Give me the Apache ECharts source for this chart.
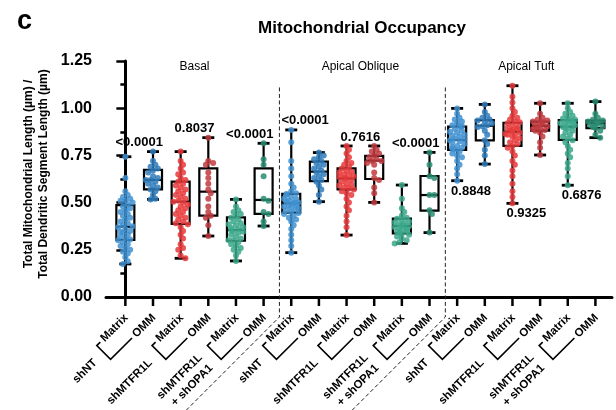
<!DOCTYPE html>
<html><head><meta charset="utf-8">
<script src="https://cdn.jsdelivr.net/npm/echarts@6/dist/echarts.min.js"></script>
<style>html,body{margin:0;padding:0;background:#fff}#chart{width:616px;height:410px}</style>
</head><body><div id="chart"></div>
<script>
// ---------- data ----------
const tickLabels = ['Matrix','OMM','Matrix','OMM','Matrix','OMM','Matrix','OMM','Matrix','OMM','Matrix','OMM','Matrix','OMM','Matrix','OMM','Matrix','OMM'];
const groupLabels = ['shNT','shMTFR1L','shMTFR1L\n+ shOPA1','shNT','shMTFR1L','shMTFR1L\n+ shOPA1','shNT','shMTFR1L','shMTFR1L\n+ shOPA1'];
const regionLabels = ['Basal','Apical Oblique','Apical Tuft'];
const pValues = ['<0.0001','0.8037','<0.0001','<0.0001','0.7616','<0.0001','0.8848','0.9325','0.6876'];
// [min, Q1, median, Q3, max]
const boxStats = [
  [0.175,0.302,0.372,0.487,0.743],[0.517,0.570,0.620,0.673,0.770],
  [0.205,0.387,0.505,0.611,0.770],[0.323,0.431,0.558,0.681,0.844],
  [0.191,0.298,0.355,0.422,0.517],[0.376,0.440,0.514,0.681,0.814],
  [0.235,0.447,0.496,0.546,0.885],[0.505,0.614,0.664,0.717,0.765],
  [0.328,0.570,0.628,0.681,0.800],[0.501,0.625,0.722,0.747,0.800],
  [0.284,0.337,0.376,0.415,0.593],[0.341,0.457,0.540,0.641,0.766],
  [0.616,0.779,0.832,0.902,0.999],[0.704,0.830,0.907,0.937,1.020],
  [0.496,0.800,0.876,0.923,1.119],[0.752,0.881,0.906,0.929,1.026],
  [0.592,0.832,0.902,0.937,1.026],[0.844,0.894,0.920,0.934,1.035]
];
const basalPoints = [
  [0.743,0.63,0.56,0.54,0.53,0.52,0.51,0.51,0.50,0.49,0.48,0.47,0.46,0.45,0.44,0.43,0.42,0.41,0.40,0.39,0.38,0.375,0.37,0.36,0.35,0.345,0.34,0.33,0.32,0.31,0.305,0.30,0.29,0.28,0.27,0.26,0.25,0.24,0.23,0.21,0.19,0.175],
  [0.770,0.72,0.70,0.69,0.68,0.67,0.66,0.64,0.63,0.62,0.62,0.61,0.60,0.59,0.58,0.57,0.56,0.54,0.52,0.517],
  [0.770,0.72,0.70,0.68,0.66,0.65,0.63,0.62,0.61,0.60,0.59,0.58,0.57,0.56,0.55,0.54,0.53,0.52,0.51,0.505,0.50,0.49,0.48,0.47,0.46,0.45,0.44,0.43,0.42,0.41,0.40,0.39,0.385,0.37,0.35,0.33,0.31,0.28,0.26,0.25,0.22,0.205],
  [0.844,0.72,0.71,0.70,0.66,0.63,0.60,0.57,0.55,0.52,0.48,0.45,0.43,0.42,0.38,0.323],
  [0.517,0.48,0.46,0.45,0.44,0.43,0.42,0.41,0.40,0.39,0.385,0.38,0.37,0.365,0.36,0.355,0.35,0.345,0.34,0.33,0.32,0.31,0.30,0.30,0.29,0.28,0.27,0.26,0.25,0.24,0.22,0.191],
  [0.814,0.73,0.70,0.64,0.52,0.51,0.45,0.44,0.40,0.376]
];
const obliquePoints = [
  [0.885,0.82,0.72,0.68,0.64,0.60,0.58,0.56,0.55,0.545,0.54,0.53,0.52,0.52,0.51,0.505,0.50,0.50,0.495,0.49,0.485,0.48,0.475,0.47,0.465,0.46,0.45,0.445,0.44,0.43,0.42,0.41,0.40,0.38,0.36,0.33,0.30,0.27,0.235],
  [0.765,0.75,0.74,0.73,0.72,0.71,0.70,0.69,0.68,0.67,0.66,0.65,0.64,0.63,0.62,0.61,0.59,0.57,0.54,0.505],
  [0.800,0.78,0.76,0.74,0.72,0.71,0.70,0.69,0.68,0.67,0.665,0.66,0.65,0.645,0.64,0.635,0.63,0.625,0.62,0.61,0.60,0.595,0.59,0.58,0.575,0.57,0.56,0.55,0.54,0.52,0.50,0.48,0.46,0.43,0.40,0.37,0.328],
  [0.800,0.78,0.77,0.76,0.75,0.74,0.73,0.72,0.72,0.71,0.70,0.66,0.63,0.62,0.58,0.55,0.501],
  [0.593,0.52,0.47,0.45,0.43,0.42,0.415,0.41,0.40,0.395,0.39,0.385,0.38,0.378,0.375,0.37,0.365,0.36,0.355,0.35,0.345,0.34,0.335,0.33,0.32,0.31,0.30,0.29,0.284],
  [0.766,0.70,0.64,0.63,0.54,0.54,0.46,0.44,0.341]
];
const tuftPoints = [
  [0.999,0.97,0.95,0.94,0.93,0.92,0.91,0.905,0.90,0.89,0.88,0.875,0.87,0.86,0.855,0.85,0.84,0.835,0.83,0.825,0.82,0.81,0.80,0.795,0.79,0.785,0.78,0.77,0.76,0.75,0.74,0.72,0.70,0.68,0.65,0.616],
  [1.020,0.98,0.96,0.95,0.94,0.935,0.93,0.92,0.91,0.905,0.90,0.88,0.86,0.83,0.81,0.78,0.75,0.704],
  [1.119,1.06,1.03,1.00,0.98,0.96,0.95,0.94,0.93,0.925,0.92,0.91,0.90,0.895,0.89,0.885,0.88,0.876,0.87,0.865,0.86,0.855,0.85,0.84,0.83,0.82,0.81,0.80,0.79,0.77,0.75,0.72,0.70,0.67,0.64,0.60,0.56,0.53,0.496],
  [1.026,0.97,0.95,0.94,0.935,0.93,0.925,0.92,0.915,0.91,0.905,0.90,0.895,0.89,0.885,0.88,0.87,0.85,0.82,0.79,0.752],
  [1.026,1.00,0.98,0.97,0.96,0.95,0.945,0.94,0.935,0.93,0.925,0.92,0.915,0.91,0.905,0.90,0.895,0.89,0.88,0.87,0.86,0.85,0.84,0.83,0.82,0.80,0.78,0.76,0.74,0.71,0.68,0.64,0.592],
  [1.035,0.97,0.95,0.94,0.935,0.93,0.925,0.92,0.918,0.91,0.905,0.90,0.895,0.88,0.86,0.844]
];
const conditionColors = ['#3f90d0','#2f7bbb','#e8393b','#c13a3e','#3ba88b','#2a8d73'];

// ---------- layout helpers ----------
const points = basalPoints.concat(obliquePoints, tuftPoints);
const FONT = '"Liberation Sans", Arial, sans-serif';
const X_MIN = -0.7, X_MAX = 17.6, Y_MAX = 1.25;
const G_LEFT = 106, G_RIGHT = 4, G_TOP = 61, G_BOTTOM = 113;
const pxPerX = (616 - G_LEFT - G_RIGHT) / (X_MAX - X_MIN);
const pxPerY = (410 - G_TOP - G_BOTTOM) / Y_MAX;

function swarm(vals){
  const placed = [], out = [];
  const d = 4.4, step = 2.4, maxOff = 9;
  vals.forEach((v, idx) => {
    const y = v * pxPerY;
    let best = null;
    for (let k = 0; k < 16; k++) {
      const off = k === 0 ? 0 : (k % 2 ? 1 : -1) * Math.ceil(k / 2) * step;
      if (Math.abs(off) > maxOff) break;
      if (placed.every(p => Math.hypot(p[0] - off, p[1] - y) >= d)) { best = off; break; }
    }
    if (best === null) best = ((idx % 5) - 2) * step;
    placed.push([best, y]); out.push(best);
  });
  return out;
}
const scatterData = [];
points.forEach((vals, g) => {
  const offs = swarm(vals);
  vals.forEach((v, i) => scatterData.push([g + offs[i] / pxPerX, v, g]));
});

const mctx = document.createElement('canvas').getContext('2d');
const LBL_FONT = 'bold 11.5px ' + FONT;
function textW(t){ mctx.font = LBL_FONT; return mctx.measureText(t).width; }
const S2 = Math.SQRT2;
const toUV = (p) => [(p[0] - p[1]) / S2, (p[0] + p[1]) / S2];
const toPx = (u, v) => [(u + v) / S2, (v - u) / S2];

const chart = echarts.init(document.getElementById('chart'), null, {renderer:'canvas'});
chart.setOption({
  animation: false,
  backgroundColor: '#fff',
  grid: {left: G_LEFT, right: G_RIGHT, top: G_TOP, bottom: G_BOTTOM, outerBoundsMode: 'none'},
  xAxis: {type:'value', min:X_MIN, max:X_MAX,
    axisLine:{show:true, onZero:false, lineStyle:{color:'#000', width:3}},
    axisTick:{show:false}, axisLabel:{show:false}, splitLine:{show:false}},
  yAxis: {type:'value', min:0, max:Y_MAX, interval:0.25,
    axisLine:{show:true, lineStyle:{color:'#000', width:3}},
    axisTick:{show:true, length:9, lineStyle:{color:'#000', width:2.5}},
    minorTick:{show:true, splitNumber:2, length:5, lineStyle:{color:'#000', width:2.5}},
    splitLine:{show:false}, minorSplitLine:{show:false},
    axisLabel:{formatter: v => v.toFixed(2), color:'#000', fontWeight:'bold', fontSize:16, fontFamily:FONT, margin:14}},
  graphic: [
    {type:'text', left:17, top:8, style:{text:'c', font:'bold 27px ' + FONT, fill:'#000'}},
    {type:'text', x:362, y:28, style:{text:'Mitochondrial Occupancy', font:'bold 17px ' + FONT, fill:'#000', align:'center', verticalAlign:'middle'}},
    {type:'text', x:36, y:174, rotation:Math.PI/2, style:{text:'Total Mitochondrial Length (µm) /\nTotal Dendritic Segment Length (µm)', font:'bold 12px ' + FONT, lineHeight:15, fill:'#000', align:'center', verticalAlign:'middle'}}
  ],
  series: [
    { // box plots
      type:'custom', z:3, clip:false,
      data: boxStats.map((s, i) => [i].concat(s)),
      encode:{x:0, y:[1,2,3,4,5]},
      renderItem: (params, api) => {
        const g = api.value(0);
        const c = k => api.coord([g, api.value(k)]);
        const pMin = c(1), pQ1 = c(2), pMed = c(3), pQ3 = c(4), pMax = c(5);
        const x = pMin[0], hw = 9, cw = 6;
        const ls = {stroke:'#000', lineWidth:2.2};
        const cs = {stroke:'#000', lineWidth:2.8};
        return {type:'group', children:[
          {type:'line', shape:{x1:x, y1:pMax[1], x2:x, y2:pQ3[1]}, style:ls},
          {type:'line', shape:{x1:x, y1:pQ1[1], x2:x, y2:pMin[1]}, style:ls},
          {type:'line', shape:{x1:x-cw, y1:pMax[1], x2:x+cw, y2:pMax[1]}, style:cs},
          {type:'line', shape:{x1:x-cw, y1:pMin[1], x2:x+cw, y2:pMin[1]}, style:cs},
          {type:'rect', shape:{x:x-hw, y:pQ3[1], width:2*hw, height:pQ1[1]-pQ3[1]}, style:{stroke:'#000', lineWidth:2.2, fill:'transparent'}},
          {type:'line', shape:{x1:x-hw, y1:pMed[1], x2:x+hw, y2:pMed[1]}, style:ls}
        ]};
      }
    },
    { // individual points
      type:'scatter', z:4, symbolSize:6,
      data: scatterData,
      itemStyle:{opacity:0.85, color: p => conditionColors[p.value[2] % 6]}
    },
    { // x ticks, tick labels, brackets, group labels
      type:'custom', z:5, clip:false, silent:true,
      data: groupLabels.map((t, p) => [p * 2, 0]),
      encode:{x:0, y:1},
      renderItem: (params, api) => {
        const p = params.dataIndex;
        const axisY = api.coord([0, 0])[1];
        const xm = api.coord([2*p, 0])[0], xo = api.coord([2*p+1, 0])[0];
        const tickStyle = {stroke:'#000', lineWidth:2.5};
        const M = [xm + 1, axisY + 19], O = [xo + 1, axisY + 19];
        const [uM, vM] = toUV(M), [uO, vO] = toUV(O);
        const Lm = textW(tickLabels[2*p]), Lo = textW(tickLabels[2*p+1]);
        const uA = Math.min(uM - Lm, uO - Lo) - 8;
        const P0 = toPx(uM - Lm - 3, vM), A = toPx(uA, vM), B = toPx(uA, vO), C = toPx(uO - Lo - 3, vO);
        const G = toPx(uA - 12, (vM + vO) / 2);
        const txt = (pos, t) => ({type:'text', x:pos[0], y:pos[1], rotation:Math.PI/4,
          style:{text:t, font:LBL_FONT, fill:'#000', align:'right', verticalAlign:'middle', lineHeight:15}});
        return {type:'group', children:[
          {type:'line', shape:{x1:xm, y1:axisY, x2:xm, y2:axisY+9}, style:tickStyle},
          {type:'line', shape:{x1:xo, y1:axisY, x2:xo, y2:axisY+9}, style:tickStyle},
          txt(M, tickLabels[2*p]), txt(O, tickLabels[2*p+1]),
          {type:'polyline', shape:{points:[P0, A, B, C]}, style:{stroke:'#000', lineWidth:1.6, fill:null}},
          txt(G, groupLabels[p])
        ]};
      }
    },
    { // dashed region dividers
      type:'custom', z:2, clip:false, silent:true,
      data: [[5.5, 0], [11.5, 0]],
      encode:{x:0, y:1},
      renderItem: (params, api) => {
        const v = api.value(0);
        const x = api.coord([v, 0])[0] + 2;
        const axisY = api.coord([v, 0])[1];
        const yTop = api.coord([v, 1.11])[1];
        return {type:'polyline', shape:{points:[[x, yTop], [x, axisY + 20], [x - 140, axisY + 160]]},
          style:{stroke:'#222', lineWidth:1, lineDash:[4, 2.5], fill:null}};
      }
    },
    { // region labels
      type:'custom', z:5, clip:false, silent:true,
      data: regionLabels.map((t, r) => [r * 6 + 2.5, 1.22]),
      encode:{x:0, y:1},
      renderItem: (params, api) => {
        const pt = api.coord([api.value(0), api.value(1)]);
        return {type:'text', x:pt[0], y:pt[1], style:{text:regionLabels[params.dataIndex], font:'12px ' + FONT, fill:'#000', align:'center', verticalAlign:'middle'}};
      }
    },
    { // p-values
      type:'custom', z:6, clip:false, silent:true,
      data: pValues.map((t, k) => {
        const below = k >= 6;
        const a = boxStats[2*k], b = boxStats[2*k+1];
        return [2*k + 0.5, below ? Math.min(a[0], b[0]) : Math.max(a[4], b[4]), below ? 1 : 0];
      }),
      encode:{x:0, y:1},
      renderItem: (params, api) => {
        const pt = api.coord([api.value(0), api.value(1)]);
        const below = api.value(2) === 1;
        return {type:'text', x:pt[0], y:pt[1] + (below ? 10.5 : -9),
          style:{text:pValues[params.dataIndex], font:'bold 13px ' + FONT, fill:'#000', align:'center', verticalAlign:'middle'}};
      }
    }
  ]
});
</script>
</body></html>
